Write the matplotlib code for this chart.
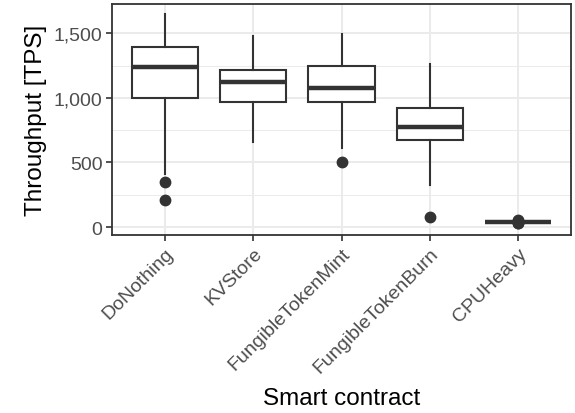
import matplotlib.pyplot as plt
import numpy as np
from matplotlib.ticker import FuncFormatter, MultipleLocator

plt.rcParams['font.family'] = ['Liberation Sans', 'DejaVu Sans']

# Box summary per contract (TPS)
contracts = ['DoNothing', 'KVStore', 'FungibleTokenMint', 'FungibleTokenBurn', 'CPUHeavy']
whislo = [410, 657, 611, 325, 34]
q1 = [997, 966, 966, 673, 37]
med = [1237, 1121, 1075, 773, 40]
q3 = [1391, 1214, 1245, 920, 43]
whishi = [1646, 1476, 1492, 1260, 46]
fliers = [[348, 209], [], [502], [77], [28, 31, 50, 53]]

stats = [dict(label=c, whislo=lo, q1=a, med=m, q3=b, whishi=hi, fliers=f)
         for c, lo, a, m, b, hi, f in zip(contracts, whislo, q1, med, q3, whishi, fliers)]

dark = '#333333'
fig, ax = plt.subplots(figsize=(5.75, 4.14), dpi=100)
fig.subplots_adjust(left=0.195, right=0.993, top=0.988, bottom=0.43)

pos = np.arange(1, len(contracts) + 1)
ax.bxp(stats, positions=pos, widths=0.75, showcaps=False, patch_artist=True,
       boxprops=dict(facecolor='white', edgecolor=dark, linewidth=1.5),
       medianprops=dict(color=dark, linewidth=3.2, solid_capstyle='butt'),
       whiskerprops=dict(color=dark, linewidth=1.5),
       flierprops=dict(marker='o', markerfacecolor=dark, markeredgecolor=dark,
                       markersize=7.5, linestyle='none'),
       zorder=3)

ax.set_xlim(0.4, 5.6)
ax.set_ylim(-61, 1727)
ax.yaxis.set_major_locator(MultipleLocator(500))
ax.yaxis.set_minor_locator(MultipleLocator(250))
ax.yaxis.set_major_formatter(FuncFormatter(lambda v, p: f'{int(v):,}'))
ax.set_xticks(pos)
ax.set_xticklabels(contracts, rotation=45, ha='right', rotation_mode='anchor')

ax.grid(which='major', color='#EBEBEB', linewidth=1.4, zorder=0)
ax.grid(which='minor', axis='y', color='#EBEBEB', linewidth=0.7, zorder=0)
ax.set_axisbelow(True)
for s in ax.spines.values():
    s.set_color(dark)
    s.set_linewidth(1.3)

ax.tick_params(which='major', length=4, width=1.2, color=dark,
               labelsize=14, labelcolor='#4D4D4D', pad=3)
ax.tick_params(which='minor', length=0)

ax.set_xlabel('Smart contract', fontsize=17.5, labelpad=8)
ax.set_ylabel('Throughput [TPS]', fontsize=17.5, labelpad=5)

fig.savefig('out.png', dpi=100)
